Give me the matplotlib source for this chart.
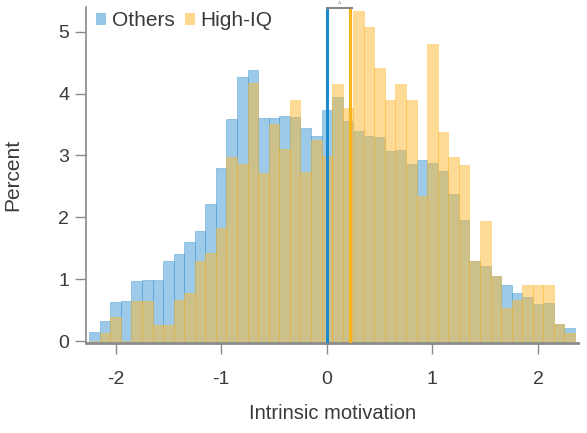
import matplotlib
matplotlib.use('Agg')
import matplotlib.pyplot as plt
import numpy as np
from matplotlib.patches import Patch

# Histogram bins (width 0.1, centred on multiples of 0.1)
bin_centers = np.round(np.arange(-2.2, 2.31, 0.1), 2)

# Percent per bin
others = [0.15, 0.32, 0.63, 0.65, 0.97, 0.99, 0.99, 1.30, 1.41, 1.60,
          1.78, 2.22, 2.80, 3.59, 4.27, 4.38, 3.60, 3.60, 3.63, 3.62,
          3.44, 3.31, 3.73, 3.95, 3.55, 3.40, 3.31, 3.30, 3.07, 3.09,
          2.86, 2.92, 2.88, 2.75, 2.37, 1.96, 1.29, 1.21, 1.05, 0.90,
          0.78, 0.72, 0.60, 0.62, 0.28, 0.21]
high_iq = [0.00, 0.13, 0.39, 0.00, 0.64, 0.64, 0.26, 0.26, 0.66, 0.77,
           1.30, 1.42, 1.82, 2.98, 2.86, 4.17, 2.72, 3.50, 3.11, 3.90,
           2.74, 3.25, 2.99, 4.16, 3.77, 5.33, 5.07, 4.41, 3.90, 4.16,
           3.90, 2.34, 4.80, 3.38, 2.98, 2.85, 1.29, 1.94, 1.05, 0.54,
           0.66, 0.90, 0.90, 0.90, 0.28, 0.13]

mean_others = 0.0
mean_high_iq = 0.22

TEXT = '#3a3a3a'
SPINE = '#8a8a8a'
BLUE_BAR = '#3d97d3'
ORANGE_BAR = '#fdb930'
BLUE_LINE = '#1b8ad0'
ORANGE_LINE = '#f7b21c'

plt.rcParams['font.family'] = ['Liberation Sans', 'DejaVu Sans']
plt.rcParams['axes.unicode_minus'] = False

fig = plt.figure(figsize=(5.87, 4.33), dpi=100)
ax = fig.add_axes([0.1465, 0.208, 0.8385, 0.776])

width = 0.1
ax.bar(bin_centers, others, width=width, color=BLUE_BAR, alpha=0.5,
       edgecolor=BLUE_BAR, linewidth=0.6, zorder=2)
ax.bar(bin_centers, high_iq, width=width, color=ORANGE_BAR, alpha=0.5,
       edgecolor=ORANGE_BAR, linewidth=0.6, zorder=3)

# Group means
ax.axvline(mean_others, color=BLUE_LINE, linewidth=2.2, zorder=5)
ax.axvline(mean_high_iq, color=ORANGE_LINE, linewidth=2.2, zorder=5)

# Significance bracket at the top
ytop = 5.39
ax.plot([mean_others, mean_high_iq + 0.02], [ytop, ytop], color='#888888',
        linewidth=1.5, clip_on=False, zorder=6)
ax.text((mean_others + mean_high_iq) / 2 + 0.01, ytop, '^', ha='center',
        va='bottom', fontsize=5, color='#666666', clip_on=False)

ax.set_xlim(-2.28, 2.38)
ax.set_ylim(-0.03, 5.4)

ax.set_xticks([-2, -1, 0, 1, 2])
ax.set_yticks([0, 1, 2, 3, 4, 5])
for s in ['top', 'right']:
    ax.spines[s].set_visible(False)
for s in ['left', 'bottom']:
    ax.spines[s].set_color(SPINE)
    ax.spines[s].set_linewidth(1.2)
ax.spines['bottom'].set_linewidth(2)

ax.tick_params(axis='both', colors=SPINE, labelcolor=TEXT, labelsize=14,
               length=8, width=1, direction='out')
ax.tick_params(axis='y', pad=4)
ax.tick_params(axis='x', pad=12)

ax.set_xlabel('Intrinsic motivation', fontsize=14.5, color=TEXT, labelpad=12)
ax.set_ylabel('Percent', fontsize=15, color=TEXT)
ax.yaxis.set_label_coords(-0.13, 0.5)

handles = [Patch(facecolor=BLUE_BAR, alpha=0.55, label='Others'),
           Patch(facecolor=ORANGE_BAR, alpha=0.55, label='High-IQ')]
ax.legend(handles=handles, loc='upper left', bbox_to_anchor=(-0.005, 1.025),
          frameon=False, fontsize=15, handlelength=0.5, handleheight=0.5,
          handletextpad=0.25, columnspacing=0.5, ncol=2, labelcolor=TEXT,
          borderaxespad=0.2)

fig.savefig('out.png', dpi=100, facecolor='white')
